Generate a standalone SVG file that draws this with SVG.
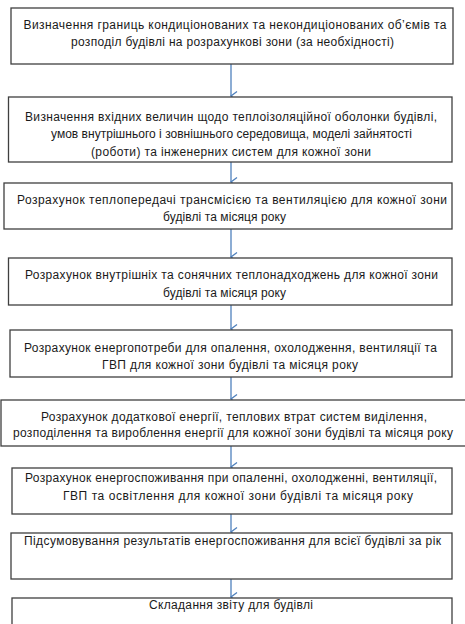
<svg xmlns="http://www.w3.org/2000/svg" width="465" height="624" viewBox="0 0 465 624">
<defs>
<style>
.box{fill:#ffffff;stroke:#3f3f3f;stroke-width:1.3}
.t{font-family:"Liberation Sans",Arial,sans-serif;font-size:12px;fill:#1a1a1a}
.c{stroke:#4f81bd;stroke-width:1.3;fill:none}
</style>
<marker id="ah" markerUnits="userSpaceOnUse" markerWidth="12" markerHeight="10" refX="5" refY="8" orient="auto" viewBox="0 0 10 10">
<path d="M0.5,2 L5,8 L9.5,2" fill="none" stroke="#4f81bd" stroke-width="1.3"/>
</marker>
</defs>
<rect width="465" height="624" fill="#ffffff"/>
<g id="connectors">
<line class="c" x1="231" y1="64" x2="231" y2="96" marker-end="url(#ah)"/>
<line class="c" x1="231" y1="162" x2="231" y2="182" marker-end="url(#ah)"/>
<line class="c" x1="231" y1="229" x2="231" y2="257" marker-end="url(#ah)"/>
<line class="c" x1="231" y1="305" x2="231" y2="329" marker-end="url(#ah)"/>
<line class="c" x1="231" y1="377" x2="231" y2="399" marker-end="url(#ah)"/>
<line class="c" x1="231" y1="446" x2="231" y2="467" marker-end="url(#ah)"/>
<line class="c" x1="231" y1="514" x2="231" y2="532" marker-end="url(#ah)"/>
<line class="c" x1="231" y1="579" x2="231" y2="597" marker-end="url(#ah)"/>
</g>
<g id="n1">
<rect class="box" x="11" y="8" width="442" height="56"/>
<text class="t" x="23.5" y="29" textLength="423" lengthAdjust="spacing">Визначення границь кондиціонованих та некондиціонованих об’ємів та</text>
<text class="t" x="71" y="45.5" textLength="323" lengthAdjust="spacing">розподіл будівлі на розрахункові зони (за необхідності)</text>
</g>
<g id="n2">
<rect class="box" x="8.5" y="97" width="443.5" height="65"/>
<text class="t" x="25" y="120.5" textLength="412" lengthAdjust="spacing">Визначення вхідних величин щодо теплоізоляційної оболонки будівлі,</text>
<text class="t" x="51" y="138" textLength="361" lengthAdjust="spacing">умов внутрішнього і зовнішнього середовища, моделі зайнятості</text>
<text class="t" x="91" y="155.5" textLength="280" lengthAdjust="spacing">(роботи) та інженерних систем для кожної зони</text>
</g>
<g id="n3">
<rect class="box" x="4" y="183" width="448" height="46"/>
<text class="t" x="17" y="204" textLength="430" lengthAdjust="spacing">Розрахунок теплопередачі трансмісією та вентиляцією для кожної зони</text>
<text class="t" x="163" y="221" textLength="123" lengthAdjust="spacing">будівлі та місяця року</text>
</g>
<g id="n4">
<rect class="box" x="8.5" y="258" width="443.5" height="47"/>
<text class="t" x="25" y="279" textLength="413" lengthAdjust="spacing">Розрахунок внутрішніх та сонячних теплонадходжень для кожної зони</text>
<text class="t" x="163" y="296.5" textLength="123" lengthAdjust="spacing">будівлі та місяця року</text>
</g>
<g id="n5">
<rect class="box" x="10" y="330" width="442" height="47"/>
<text class="t" x="24" y="351.5" textLength="413" lengthAdjust="spacing">Розрахунок енергопотреби для опалення, охолодження, вентиляції та</text>
<text class="t" x="102" y="369" textLength="256" lengthAdjust="spacing">ГВП для кожної зони будівлі та місяця року</text>
</g>
<g id="n6">
<rect class="box" x="1" y="400" width="466" height="46"/>
<text class="t" x="41" y="420.5" textLength="386" lengthAdjust="spacing">Розрахунок додаткової енергії, теплових втрат систем виділення,</text>
<text class="t" x="13" y="437" textLength="440" lengthAdjust="spacing">розподілення та вироблення енергії для кожної зони будівлі та місяця року</text>
</g>
<g id="n7">
<rect class="box" x="12" y="468" width="440" height="46"/>
<text class="t" x="25" y="482" textLength="412" lengthAdjust="spacing">Розрахунок енергоспоживання при опаленні, охолодженні, вентиляції,</text>
<text class="t" x="63" y="500" textLength="350" lengthAdjust="spacing">ГВП та освітлення для кожної зони будівлі та місяця року</text>
</g>
<g id="n8">
<rect class="box" x="11" y="533" width="441" height="46"/>
<text class="t" x="24" y="544.5" textLength="417" lengthAdjust="spacing">Підсумовування результатів енергоспоживання для всієї будівлі за рік</text>
</g>
<g id="n9">
<rect class="box" x="12" y="598" width="440" height="40"/>
<text class="t" x="149" y="609" textLength="164" lengthAdjust="spacing">Складання звіту для будівлі</text>
</g>
</svg>
